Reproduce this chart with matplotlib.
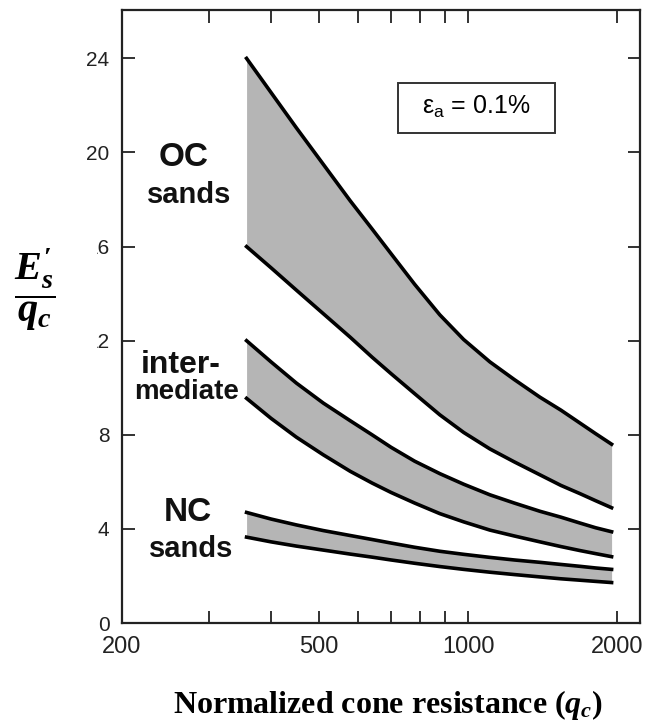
import matplotlib
matplotlib.use('Agg')
import matplotlib.pyplot as plt
from matplotlib.patches import Rectangle
from matplotlib.ticker import FixedLocator, NullFormatter

plt.rcParams['mathtext.fontset'] = 'custom'
plt.rcParams['mathtext.it'] = 'Liberation Serif:italic:bold'
plt.rcParams['mathtext.rm'] = 'Liberation Serif:bold'
plt.rcParams['mathtext.bf'] = 'Liberation Serif:bold'
plt.rcParams['mathtext.sf'] = 'Liberation Sans'

# values (E's/qc against qc)
q = [357, 400, 450, 510, 578, 640, 699, 780, 877, 980, 1107, 1240, 1397, 1540, 1683, 1810, 1950]
oc_upper = [24.0, 22.55, 21.05, 19.5, 17.95, 16.75, 15.7, 14.4, 13.1, 12.05, 11.1, 10.35, 9.6, 9.05, 8.5, 8.05, 7.6]
oc_lower = [16.0, 15.1, 14.15, 13.15, 12.15, 11.3, 10.6, 9.75, 8.85, 8.1, 7.4, 6.85, 6.3, 5.85, 5.5, 5.2, 4.9]
int_upper = [12.0, 11.1, 10.2, 9.35, 8.6, 8.0, 7.47, 6.88, 6.35, 5.9, 5.45, 5.1, 4.75, 4.5, 4.25, 4.05, 3.88]
int_lower = [9.55, 8.7, 7.9, 7.15, 6.45, 5.95, 5.55, 5.1, 4.65, 4.3, 3.95, 3.7, 3.45, 3.25, 3.08, 2.95, 2.82]
nc_upper = [4.7, 4.42, 4.17, 3.93, 3.72, 3.55, 3.4, 3.22, 3.05, 2.92, 2.79, 2.68, 2.58, 2.49, 2.41, 2.34, 2.28]
nc_lower = [3.65, 3.45, 3.27, 3.1, 2.93, 2.8, 2.68, 2.54, 2.4, 2.28, 2.16, 2.06, 1.96, 1.88, 1.82, 1.77, 1.72]

x_major = [200, 500, 1000, 2000]
x_minor = [300, 400, 600, 700, 800, 900]
y_ticks = [0, 4, 8, 12, 16, 20, 24]

fig = plt.figure(figsize=(6.5, 7.21), dpi=100)
ax = fig.add_axes([0.1877, 0.1359, 0.797, 0.850])
ax.set_xscale('log')
ax.set_xlim(200, 2226)
ax.set_ylim(0, 26.05)

bands = [(oc_lower, oc_upper), (int_lower, int_upper), (nc_lower, nc_upper)]
for lo, hi in bands:
    ax.fill_between(q, lo, hi, color='#b5b5b5', lw=0)
    ax.plot(q, hi, color='black', lw=2.6, solid_joinstyle='round')
    ax.plot(q, lo, color='black', lw=2.6, solid_joinstyle='round')

ax.set_xticks(x_major)
ax.set_xticklabels([str(v) for v in x_major])
ax.xaxis.set_minor_locator(FixedLocator(x_minor))
ax.xaxis.set_minor_formatter(NullFormatter())
ax.set_yticks(y_ticks)
ax.set_yticklabels([str(v) for v in y_ticks])
ax.tick_params(which='both', direction='in', top=True, right=True,
               length=9, width=1.3, color='#222222')
ax.tick_params(axis='x', labelsize=17, pad=9, labelcolor='#222222')
ax.tick_params(axis='y', labelsize=15, pad=9, labelcolor='#222222')
for lab in ax.get_xticklabels() + ax.get_yticklabels():
    lab.set_family('Liberation Sans')
for s in ax.spines.values():
    s.set_linewidth(1.6)
    s.set_color('#222222')

lbl = dict(transform=ax.transAxes, ha='center', va='center',
           family='Liberation Sans', fontweight='bold', color='#111111')
ax.text(0.118, 0.760, 'OC', fontsize=24, **lbl)
ax.text(0.129, 0.698, 'sands', fontsize=21, **lbl)
ax.text(0.114, 0.421, 'inter-', fontsize=23, **lbl)
ax.text(0.124, 0.377, 'mediate', fontsize=20, **lbl)
ax.text(0.127, 0.181, 'NC', fontsize=24, **lbl)
ax.text(0.133, 0.121, 'sands', fontsize=21, **lbl)

# strain box
ax.add_patch(Rectangle((0.533, 0.799), 0.303, 0.082, transform=ax.transAxes,
                       fc='white', ec='#333333', lw=1.4, zorder=4))
ax.text(0.684, 0.842, r'$\mathsf{\varepsilon_a}$ = 0.1%', transform=ax.transAxes,
        ha='center', va='center', family='Liberation Sans', fontsize=18, zorder=5)

# y label pasted over the left tick labels
fig.add_artist(Rectangle((0, 0.50), 0.1485, 0.195, transform=fig.transFigure,
                         fc='white', ec='none', zorder=5))
fig.text(0.053, 0.598, r'$\dfrac{E^{\prime}_s}{q_c}$', fontsize=29,
         ha='center', va='center', zorder=6)

fig.text(0.597, 0.022, 'Normalized cone resistance ($q_c$)', ha='center', va='center',
         family='Liberation Serif', fontweight='bold', fontsize=23)

fig.savefig('out.png', dpi=100)
